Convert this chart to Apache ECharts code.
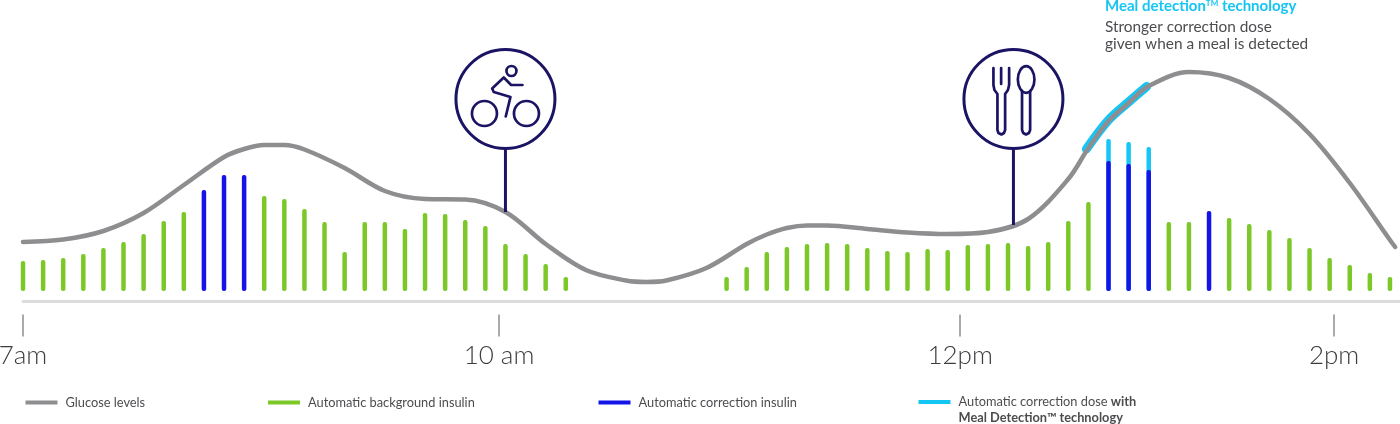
<!DOCTYPE html>
<html>
<head>
<meta charset="utf-8">
<style>html,body{margin:0;padding:0;background:#fff}#c{width:1400px;height:424px}</style>
<script src="https://cdn.jsdelivr.net/npm/echarts@6/dist/echarts.min.js"></script>
</head>
<body>
<div id="c"></div>
<script>
// x is measured in dose slots (one dose every slot); y in chart units above the bar baseline.
const doseSlots = Array.from({length: 69}, (_, i) => i);
const backgroundInsulin = [30,31,33,37,43,49,57,70,79,null,null,null,95,92,82,69,39,69,69,62,78,77,71,65,47,37,27,14,
  null,null,null,null,null,null,null,14,24,39,44,47,48,47,43,40,39,42,41,46,47,48,45,49,70,89,
  null,null,null,69,69,null,73,67,61,53,43,33,26,18,14];
const correctionInsulin = doseSlots.map(() => null);
[[9,101],[10,116],[11,116],[54,130],[55,127],[56,121],[59,80]].forEach(([s, v]) => { correctionInsulin[s] = v; });
const mealDoseTop = doseSlots.map(() => null);
[[54,152],[55,149],[56,144]].forEach(([s, v]) => { mealDoseTop[s] = v; });

const glucoseSlots = [0,2,4,6,8,10,11,12,13,14,16,18,20,22,24,26,28,30,31,32,34,36,37,38,39,40,42,44,46,48,50,52,53,54,55,56,58,60,62,64,66,68,68.26];
const glucoseValues = [49,51.5,60,78,106,134,142,146,146,141.5,123,100,92,91.5,79,47,21,10.5,9,10.5,23,47,56.5,63,65.5,65.5,62,58.5,57,59,72,112,143,170,188,205,219,213,192,157,108,51,44];
const mealSlots = [52.9,54,55,55.9];
const mealValues = [142,171,189,204.5];

const pinSlots = [24, 49.27];
const pinBase = [79, 66];
const pinTop = [192, 192];

const tickValues = [0, 23.68, 46.62, 65.22];
const tickLabels = ['7am', '10 am', '12pm', '2pm'];

const legendNames = ['Glucose levels', 'Automatic background insulin', 'Automatic correction insulin', 'Automatic correction dose with Meal Detection™ technology'];
const GREY = '#8e8e91', GREEN = '#7bc828', BLUE = '#1414e8', CYAN = '#15c6f4', NAVY = '#1b1464', TEXT = '#4d4d50';
const FONT = 'Lato';
const xMin = 0, xMax = 68.5;

const pair = (xs, ys) => xs.map((x, i) => [x, ys[i]]);
const stroke = {stroke: NAVY, lineWidth: 2.7, fill: 'none', lineCap: 'round', lineJoin: 'round'};
const ring = (cx, cy, r) => ({type: 'circle', shape: {cx, cy, r}, style: stroke});
const poly = (ox, oy, pts) => ({type: 'polyline', shape: {points: pts.map(p => [p[0] + ox, p[1] + oy])}, style: stroke});

function bikeIcon(x, y) {
  return [
    ring(x + 6, y - 28, 5), ring(x - 21, y + 14.5, 12.5), ring(x + 21, y + 14.5, 12.5),
    poly(x, y, [[17,-14],[5.7,-14],[-1.7,-21.5],[-13.3,-10.5],[-11.7,-7],[5,-2],[0.3,17.5]])
  ];
}
function cutleryIcon(x, y) {
  return [
    poly(x, y, [[-20,-31],[-20,-14],[-19,-9],[-16,-5],[-16,31],[-15,34],[-12,35.5],[-9.5,34],[-8.3,31],[-8.3,-5],[-5.5,-9],[-4.3,-14],[-4.3,-31]]),
    poly(x, y, [[-12.3,-31],[-12.3,-15]]),
    {type: 'ellipse', shape: {cx: x + 12.7, cy: y - 19.5, rx: 8.3, ry: 13.3}, style: stroke},
    poly(x, y, [[8.6,-8],[8.6,31],[9.8,34],[12.6,35.5],[15.5,34],[16.7,31],[16.7,-8]])
  ];
}
const pinIcons = [bikeIcon, cutleryIcon];

function renderPin(params, api) {
  const base = api.coord([api.value(0), api.value(1)]);
  const top = api.coord([api.value(0), api.value(2)]);
  const R = 49.5;
  return {type: 'group', silent: true, children: [
    {type: 'line', shape: {x1: base[0], y1: base[1], x2: base[0], y2: top[1] + R}, style: {stroke: NAVY, lineWidth: 3}},
    {type: 'circle', shape: {cx: top[0], cy: top[1], r: R}, style: {stroke: NAVY, lineWidth: 3, fill: '#fff'}}
  ].concat(pinIcons[params.dataIndex](top[0], top[1]))};
}

const barSeries = (name, values, color, z) => ({
  name, type: 'bar', barWidth: 4.5, barGap: '-100%', clip: false, z,
  itemStyle: {color, borderRadius: 2}, data: pair(doseSlots, values), silent: true
});
const legendAt = (left, name, extra) => Object.assign({
  left, top: 396, itemWidth: 32, itemHeight: 4, itemGap: 0, icon: 'rect', selectedMode: false,
  padding: 0, data: [name], textStyle: {fontFamily: FONT, fontSize: 12.8, color: TEXT, padding: [0, 0, 0, 3]}
}, extra || {});

const chart = echarts.init(document.getElementById('c'), null, {renderer: 'canvas'});
chart.setOption({
  animation: false,
  backgroundColor: '#fff',
  grid: {left: 23, right: 0, top: 0, height: 301.5, outerBoundsMode: 'none'},
  xAxis: [
    {type: 'value', min: xMin, max: xMax, position: 'bottom', axisLine: {show: true, onZero: false, lineStyle: {color: '#dcdcdc', width: 3}},
     axisTick: {show: false}, axisLabel: {show: false}, splitLine: {show: false}},
    {type: 'value', min: xMin, max: xMax, position: 'bottom', offset: 13, axisLine: {show: false, onZero: false},
     axisTick: {show: true, length: 22, customValues: tickValues, lineStyle: {color: GREY, width: 1.5}},
     axisLabel: {show: true, customValues: tickValues, margin: 28, hideOverlap: false, showMinLabel: true, showMaxLabel: true,
       fontFamily: FONT, fontWeight: 300, fontSize: 26, color: '#3c3c40',
       formatter: v => tickLabels[tickValues.indexOf(v)]},
     splitLine: {show: false}}
  ],
  yAxis: {type: 'value', min: -10.5, max: 291, show: false, splitLine: {show: false}},
  legend: [
    legendAt(25.5, legendNames[0]),
    legendAt(268, legendNames[1]),
    legendAt(598.5, legendNames[2]),
    legendAt(918.5, legendNames[3], {
      top: 378,
      formatter: () => '{a|Automatic correction dose }{b|with}\n{b|Meal Detection™ technology}',
      textStyle: {fontFamily: FONT, fontSize: 12.8, color: TEXT, padding: [16, 0, 0, 3], lineHeight: 16,
        rich: {a: {fontFamily: FONT, fontSize: 12.8, color: TEXT, lineHeight: 16},
               b: {fontFamily: FONT, fontSize: 12.8, fontWeight: 700, color: TEXT, lineHeight: 16}}}
    })
  ],
  series: [
    barSeries(legendNames[3], mealDoseTop, CYAN, 2),
    barSeries(legendNames[1], backgroundInsulin, GREEN, 2),
    barSeries(legendNames[2], correctionInsulin, BLUE, 2),
    {name: 'Meal detection highlight', type: 'line', data: pair(mealSlots, mealValues), showSymbol: false, smooth: 0.33, z: 3, silent: true,
     lineStyle: {color: CYAN, width: 9, cap: 'round'}},
    {name: legendNames[0], type: 'line', data: pair(glucoseSlots, glucoseValues), showSymbol: false, smooth: 0.33, z: 4, silent: true,
     itemStyle: {color: GREY}, lineStyle: {color: GREY, width: 4.5, cap: 'round'}},
    {name: 'Events', type: 'custom', renderItem: renderPin, clip: false, z: 5, silent: true,
     encode: {x: 0, y: [1, 2]}, data: pinSlots.map((s, i) => [s, pinBase[i], pinTop[i]])}
  ],
  graphic: [
    {type: 'text', left: 1105, top: -1, silent: true, style: {
      text: '{m|Meal detection}{s|TM}{m| technology}',
      rich: {m: {fontFamily: FONT, fontSize: 15, fontWeight: 700, fill: CYAN, verticalAlign: 'bottom'},
             s: {fontFamily: FONT, fontSize: 8, fontWeight: 700, fill: CYAN, verticalAlign: 'top'}}}},
    {type: 'text', left: 1105, top: 18, silent: true, style: {
      text: 'Stronger correction dose\ngiven when a meal is detected',
      fontFamily: FONT, fontSize: 15.4, lineHeight: 17.5, fill: TEXT}}
  ]
});
</script>
</body>
</html>
